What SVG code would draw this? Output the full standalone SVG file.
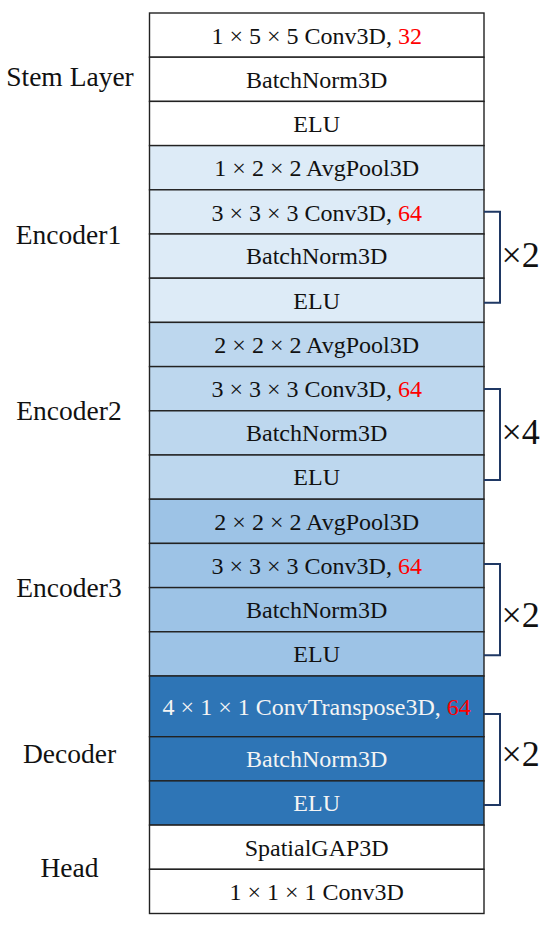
<svg xmlns="http://www.w3.org/2000/svg" width="550" height="928" viewBox="0 0 550 928">
<style>
.row{stroke:#222;stroke-width:1.4}
.w{fill:#ffffff}
.e1{fill:#DDEBF7}
.e2{fill:#BDD7EE}
.e3{fill:#9DC3E6}
.d{fill:#2E75B6}
.t{font-family:"Liberation Serif","Times New Roman",serif;font-size:24px;text-anchor:middle;fill:#111}
.tw{font-family:"Liberation Serif","Times New Roman",serif;font-size:24px;text-anchor:middle;fill:#f4f4f4}
.red{fill:#FF0000}
.lbl{font-family:"Liberation Serif","Times New Roman",serif;font-size:27.5px;text-anchor:middle;fill:#111}
.br{fill:none;stroke:#1F3864;stroke-width:2}
.mul{font-family:"Liberation Serif","Times New Roman",serif;font-size:36px;fill:#111}
</style>
<rect width="550" height="928" fill="#ffffff"/>
<g id="labels">
<text class="lbl" x="70" y="86">Stem Layer</text>
<text class="lbl" x="68.5" y="244">Encoder1</text>
<text class="lbl" x="69" y="420">Encoder2</text>
<text class="lbl" x="69" y="597">Encoder3</text>
<text class="lbl" x="69.5" y="763">Decoder</text>
<text class="lbl" x="69.5" y="877">Head</text>
</g>
<g id="stem">
<g id="r0"><rect class="row w" x="149.5" y="13" width="334.5" height="44.2"/><text class="t" x="316.7" y="44">1 × 5 × 5 Conv3D, <tspan class="red">32</tspan></text></g>
<g id="r1"><rect class="row w" x="149.5" y="57.2" width="334.5" height="44.2"/><text class="t" x="316.7" y="87.6">BatchNorm3D</text></g>
<g id="r2"><rect class="row w" x="149.5" y="101.4" width="334.5" height="44.2"/><text class="t" x="316.7" y="131.8">ELU</text></g>
</g>
<g id="encoder1">
<g id="r3"><rect class="row e1" x="149.5" y="145.6" width="334.5" height="44.2"/><text class="t" x="316.7" y="176">1 × 2 × 2 AvgPool3D</text></g>
<g id="r4"><rect class="row e1" x="149.5" y="189.8" width="334.5" height="44.2"/><text class="t" x="316.7" y="220.5">3 × 3 × 3 Conv3D, <tspan class="red">64</tspan></text></g>
<g id="r5"><rect class="row e1" x="149.5" y="234" width="334.5" height="44.2"/><text class="t" x="316.7" y="264.4">BatchNorm3D</text></g>
<g id="r6"><rect class="row e1" x="149.5" y="278.2" width="334.5" height="44.2"/><text class="t" x="316.7" y="308.6">ELU</text></g>
</g>
<g id="encoder2">
<g id="r7"><rect class="row e2" x="149.5" y="322.4" width="334.5" height="44.2"/><text class="t" x="316.7" y="352.8">2 × 2 × 2 AvgPool3D</text></g>
<g id="r8"><rect class="row e2" x="149.5" y="366.6" width="334.5" height="44.2"/><text class="t" x="316.7" y="397">3 × 3 × 3 Conv3D, <tspan class="red">64</tspan></text></g>
<g id="r9"><rect class="row e2" x="149.5" y="410.8" width="334.5" height="44.2"/><text class="t" x="316.7" y="441.2">BatchNorm3D</text></g>
<g id="r10"><rect class="row e2" x="149.5" y="455" width="334.5" height="44.2"/><text class="t" x="316.7" y="485.4">ELU</text></g>
</g>
<g id="encoder3">
<g id="r11"><rect class="row e3" x="149.5" y="499.2" width="334.5" height="44.2"/><text class="t" x="316.7" y="529.6">2 × 2 × 2 AvgPool3D</text></g>
<g id="r12"><rect class="row e3" x="149.5" y="543.4" width="334.5" height="44.2"/><text class="t" x="316.7" y="573.8">3 × 3 × 3 Conv3D, <tspan class="red">64</tspan></text></g>
<g id="r13"><rect class="row e3" x="149.5" y="587.6" width="334.5" height="44.2"/><text class="t" x="316.7" y="618">BatchNorm3D</text></g>
<g id="r14"><rect class="row e3" x="149.5" y="631.8" width="334.5" height="44.2"/><text class="t" x="316.7" y="662.2">ELU</text></g>
</g>
<g id="decoder">
<g id="r15"><rect class="row d" x="149.5" y="676" width="334.5" height="60.7"/><text class="tw" x="316.7" y="714.5">4 × 1 × 1 ConvTranspose3D, <tspan class="red">64</tspan></text></g>
<g id="r16"><rect class="row d" x="149.5" y="736.7" width="334.5" height="44.2"/><text class="tw" x="316.7" y="767.1">BatchNorm3D</text></g>
<g id="r17"><rect class="row d" x="149.5" y="780.9" width="334.5" height="44.2"/><text class="tw" x="316.7" y="811.3">ELU</text></g>
</g>
<g id="head">
<g id="r18"><rect class="row w" x="149.5" y="825.1" width="334.5" height="44.2"/><text class="t" x="316.7" y="855.5">SpatialGAP3D</text></g>
<g id="r19"><rect class="row w" x="149.5" y="869.3" width="334.5" height="44.2"/><text class="t" x="316.7" y="899.7">1 × 1 × 1 Conv3D</text></g>
</g>
<g id="connectors">
<polyline class="br" points="484,211.7 500,211.7 500,302.7 484,302.7"/>
<polyline class="br" points="484,389 500,389 500,480 484,480"/>
<polyline class="br" points="484,564 500,564 500,655.3 484,655.3"/>
<polyline class="br" points="484,714 500,714 500,805 484,805"/>
</g>
<g id="repeats">
<text class="mul" x="501.5" y="266.7">×2</text>
<text class="mul" x="501.5" y="444">×4</text>
<text class="mul" x="501.5" y="627">×2</text>
<text class="mul" x="501.5" y="766">×2</text>
</g>
</svg>
